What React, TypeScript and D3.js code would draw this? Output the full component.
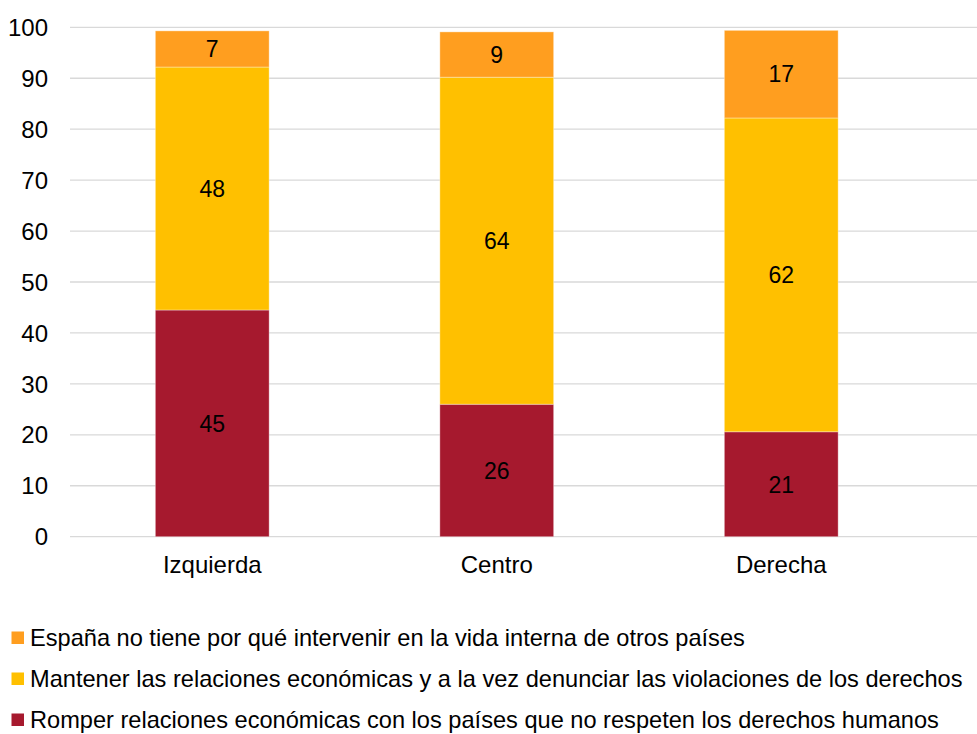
import React from 'react';
import * as d3 from 'd3';

// chart values
const categories = ['Izquierda', 'Centro', 'Derecha'];
const romper = [44.5, 26.0, 20.6];
const mantener = [47.7, 64.2, 61.6];
const espana = [7.1, 8.9, 17.2];
const yTicks = [0, 10, 20, 30, 40, 50, 60, 70, 80, 90, 100];

const seriesNames = [
  'Romper relaciones económicas con los países que no respeten los derechos humanos',
  'Mantener las relaciones económicas y a la vez denunciar las violaciones de los derechos',
  'España no tiene por qué intervenir en la vida interna de otros países',
];
const colors = ['#A6192E', '#FFC000', '#FF9E1F'];

const W = 977;
const H = 734;
const font = '"Liberation Sans", Arial, sans-serif';

const App = () => {
  const rows = categories.map((c, i) => ({
    cat: c,
    romper: romper[i],
    mantener: mantener[i],
    espana: espana[i],
  }));
  const keys = ['romper', 'mantener', 'espana'];
  const stack = d3.stack<any>().keys(keys)(rows);

  const x = d3.scaleBand().domain(categories).range([70, 923.5]).paddingInner(0.6).paddingOuter(0.3);
  const y = d3.scaleLinear().domain([0, 100]).range([536.7, 27.3]);

  // legend drawn top to bottom: espana, mantener, romper
  const legendOrder = [2, 1, 0];

  return (
    <svg width={W} height={H} style={{ position: 'absolute', left: 0, top: 0, background: '#fff' }} fontFamily={font}>
      {yTicks.map(t => (
        <g key={t}>
          <line x1={70} x2={W} y1={y(t)} y2={y(t)} stroke="#d9d9d9" strokeWidth={1.3} />
          <text x={48} y={y(t)} dy="0.36em" textAnchor="end" fontSize={24} fill="#000">{t}</text>
        </g>
      ))}
      {stack.map((s, si) => (
        <g key={s.key}>
          {s.map((d, i) => {
            const y0 = y(d[0]);
            const y1 = y(d[1]);
            return (
              <g key={i}>
                <rect x={x(categories[i])} width={x.bandwidth()} y={y1} height={y0 - y1}
                  fill={colors[si]} stroke="#fff" strokeOpacity={0.35} strokeWidth={1} />
                <text x={(x(categories[i]) as number) + x.bandwidth() / 2} y={(y0 + y1) / 2} dy="0.36em"
                  textAnchor="middle" fontSize={23} fill="#000">{Math.round(d[1] - d[0])}</text>
              </g>
            );
          })}
        </g>
      ))}
      {categories.map(c => (
        <text key={c} x={(x(c) as number) + x.bandwidth() / 2} y={573} textAnchor="middle" fontSize={24} fill="#000">{c}</text>
      ))}
      {legendOrder.map((si, k) => {
        const base = 646 + k * 41;
        return (
          <g key={si}>
            <rect x={11.5} y={base - 14.5} width={12.5} height={12.5} fill={colors[si]} />
            <text x={30} y={base} fontSize={23.6} fill="#000">{seriesNames[si]}</text>
          </g>
        );
      })}
    </svg>
  );
};

export default App;
